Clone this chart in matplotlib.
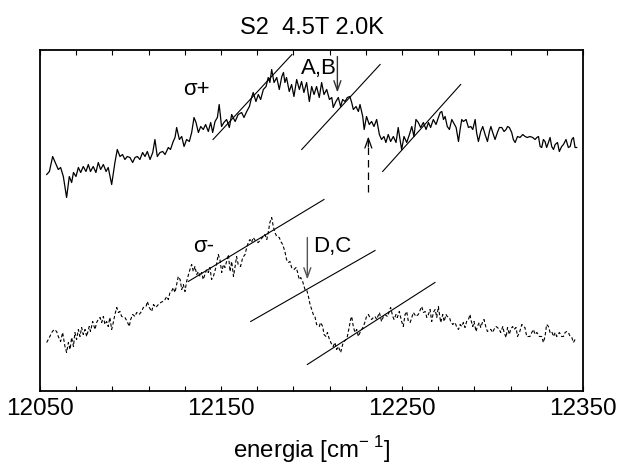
import numpy as np
import matplotlib
matplotlib.use("Agg")
import matplotlib.pyplot as plt
from matplotlib.ticker import FixedLocator

plt.rcParams['font.family'] = ['Liberation Sans', 'DejaVu Sans']
plt.rcParams['mathtext.fontset'] = 'custom'
plt.rcParams['mathtext.rm'] = 'Liberation Sans'

# sigma+ spectrum (solid), energy in cm^-1, intensity in arb. units
sp_x = [12053.7, 12055.2, 12057.0, 12058.9, 12060.1, 12061.4, 12062.9, 12064.7, 12066.2, 12067.5,
        12068.5, 12069.9, 12071.2, 12072.5, 12073.9, 12075.4, 12076.7, 12077.9, 12079.4, 12080.9,
        12082.2, 12083.5, 12085.0, 12086.5, 12087.7, 12089.6, 12091.4, 12092.7, 12094.2, 12095.6,
        12096.9, 12098.2, 12099.7, 12101.2, 12102.5, 12103.8, 12105.2, 12106.7, 12108.0, 12109.3,
        12110.8, 12112.3, 12113.5, 12114.8, 12116.3, 12117.8, 12119.1, 12120.9, 12122.1, 12123.6,
        12124.6, 12125.5, 12127.0, 12128.3, 12129.6, 12131.0, 12132.5, 12133.8, 12135.1, 12136.2,
        12137.5, 12138.8, 12140.2, 12141.5, 12143.0, 12144.3, 12145.4, 12146.7, 12148.0, 12149.0,
        12150.3, 12151.6, 12153.1, 12154.6, 12155.9, 12157.8, 12159.5,
        12161.4, 12162.7, 12164.2, 12165.7, 12166.9, 12167.8, 12169.3, 12170.6, 12171.9, 12173.4,
        12174.9, 12176.1, 12177.0, 12178.0, 12179.3, 12180.8, 12182.2, 12183.6, 12184.5, 12185.3,
        12186.2, 12187.7, 12189.0, 12190.3, 12191.8, 12193.3, 12194.5, 12195.8, 12197.3, 12198.8,
        12200.1, 12201.4, 12202.8, 12204.3, 12205.6, 12206.9, 12208.4, 12209.9, 12211.2, 12212.0,
        12213.5, 12214.8, 12216.1, 12217.2, 12218.5, 12219.8, 12221.2, 12222.2, 12223.1, 12224.6,
        12225.9, 12226.8, 12228.3, 12229.1, 12230.4, 12231.9, 12233.2, 12234.5, 12236.0, 12237.5,
        12238.7, 12240.0, 12241.1, 12242.4, 12243.7, 12245.2, 12246.7, 12247.9, 12248.9, 12249.8,
        12251.1, 12252.6, 12254.1, 12255.4, 12256.6, 12257.7, 12259.0,
        12260.3, 12261.8, 12263.3, 12264.6, 12265.8, 12267.3, 12268.8, 12270.1, 12271.1, 12272.0,
        12272.9, 12273.8, 12275.0, 12276.2, 12277.5, 12278.4, 12279.9, 12281.2, 12282.1, 12283.0,
        12283.9, 12285.4, 12286.7, 12288.0, 12289.1, 12290.4, 12291.2, 12292.2, 12293.5, 12294.6,
        12295.9, 12297.2, 12298.3, 12299.1, 12300.1, 12301.4, 12302.7, 12303.8, 12305.1, 12306.4,
        12307.5, 12308.3, 12309.3, 12310.6, 12311.5, 12312.5, 12313.8, 12315.2, 12316.7, 12318.0,
        12319.2, 12320.7, 12322.2, 12323.5, 12324.5, 12325.4, 12326.3, 12327.2, 12328.1, 12329.0,
        12329.9, 12330.9, 12331.8, 12332.7, 12333.7, 12334.6, 12335.9, 12336.9, 12338.2, 12339.2,
        12340.6, 12341.9, 12342.9, 12343.8, 12344.7, 12345.6, 12346.5]
sp_y = [217, 220, 235, 227, 222, 224, 215, 194, 215, 209,
        219, 215, 224, 219, 225, 220, 227, 220, 225, 219,
        229, 222, 227, 220, 224, 207, 229, 242, 235, 237,
        232, 235, 234, 229, 234, 235, 232, 239, 235, 240,
        232, 239, 252, 235, 239, 240, 237, 244, 242, 250,
        254, 264, 252, 255, 245, 252, 250, 259, 274, 269,
        259, 265, 262, 267, 260, 269, 259, 270, 274, 287,
        265, 269, 272, 264, 277, 270, 277,
        279, 274, 280, 285, 294, 299, 290, 297, 292, 302,
        305, 314, 309, 322, 309, 314, 302, 315, 319, 309,
        314, 300, 307, 295, 312, 302, 310, 299, 309, 290,
        305, 297, 305, 294, 309, 297, 302, 292, 294, 284,
        290, 294, 285, 292, 290, 294, 295, 289, 282, 285,
        280, 287, 275, 262, 275, 267, 270, 265, 272, 257,
        252, 255, 249, 257, 250, 255, 249, 264, 252, 242,
        255, 249, 257, 265, 255, 272, 269,
        264, 269, 262, 269, 264, 272, 267, 274, 279, 280,
        272, 275, 265, 262, 272, 269, 264, 250, 262, 272,
        270, 272, 264, 265, 262, 272, 259, 250, 260, 265,
        257, 250, 260, 265, 259, 252, 259, 264, 264, 260,
        262, 265, 264, 259, 252, 249, 255, 254, 257, 255,
        254, 255, 254, 252, 254, 255, 245, 244, 252, 250,
        244, 249, 254, 245, 242, 247, 249, 240, 245, 247,
        252, 244, 245, 252, 254, 244, 244]

# sigma- spectrum (dashed)
sm_x = [12053.7, 12055.2, 12056.5, 12057.8, 12059.2, 12060.1, 12061.4, 12062.5, 12063.8, 12064.7,
        12065.7, 12066.6, 12067.5, 12068.5, 12069.3, 12070.2, 12071.2, 12072.1, 12073.0, 12073.9,
        12074.9, 12075.8, 12077.2, 12077.9, 12079.1, 12080.4, 12081.3, 12082.2, 12083.2, 12084.1,
        12085.0, 12085.9, 12086.8, 12087.7, 12088.6, 12089.6, 12090.5, 12091.4, 12092.4, 12093.3,
        12094.2, 12095.1, 12096.9, 12098.2, 12099.3, 12100.1, 12101.2, 12102.5, 12103.4, 12104.8,
        12106.1, 12107.1, 12108.6, 12109.3, 12110.4, 12111.7, 12112.7, 12114.0, 12115.4, 12116.7,
        12117.8, 12119.1, 12120.0, 12120.9, 12121.8, 12122.7, 12123.6, 12124.6, 12125.5, 12126.4,
        12127.4, 12128.3, 12129.2, 12130.1, 12131.0, 12132.5, 12133.8, 12134.7, 12135.6, 12136.6,
        12137.5, 12138.4, 12139.3, 12140.2, 12141.1, 12142.1, 12143.0, 12143.9, 12144.8, 12145.8,
        12147.3, 12148.5, 12149.4, 12150.4, 12151.3, 12152.2, 12153.1, 12154.1, 12155.0, 12155.9,
        12156.9, 12157.8, 12158.6, 12159.5,
        12160.8, 12162.0, 12163.3, 12164.2, 12165.1, 12166.0, 12166.9, 12167.8, 12169.3, 12170.6,
        12171.9, 12173.4, 12174.3, 12175.3, 12176.1, 12177.0, 12178.0, 12178.9, 12179.8, 12180.8,
        12182.2, 12183.0, 12184.1, 12185.3, 12186.2, 12187.2, 12188.1, 12189.0, 12190.3, 12191.5,
        12192.2, 12193.2, 12194.0, 12195.1, 12196.4, 12197.3, 12198.3, 12199.2, 12200.1, 12201.0,
        12201.9, 12202.8, 12204.3, 12205.0, 12206.2, 12206.9, 12208.0, 12208.8, 12209.9, 12211.2,
        12212.0, 12212.9, 12213.9, 12214.8, 12216.1, 12217.2, 12218.0, 12219.1, 12219.8, 12220.9,
        12221.6, 12222.2, 12223.1, 12224.0, 12225.0, 12225.9, 12226.8, 12227.7, 12228.7, 12229.6,
        12230.4, 12231.4, 12232.3, 12233.2, 12234.2, 12235.1, 12236.0, 12237.5, 12238.7, 12239.7,
        12240.6, 12241.9, 12243.0, 12243.7, 12244.9, 12245.6, 12246.7, 12247.4, 12248.5, 12249.8,
        12250.7, 12251.7, 12252.6, 12253.5, 12254.5, 12255.4, 12256.3, 12257.7, 12259.0,
        12260.9, 12261.8, 12262.8, 12263.7, 12264.6, 12265.5, 12266.4, 12267.3, 12268.3, 12269.2,
        12270.1, 12270.7, 12271.4, 12272.5, 12273.3, 12274.3, 12275.0, 12276.2, 12276.9, 12278.0,
        12279.3, 12280.3, 12281.2, 12282.1, 12283.0, 12283.9, 12284.8, 12285.7, 12286.7, 12287.6,
        12288.0, 12289.1, 12289.8, 12290.9, 12291.6, 12292.7, 12293.5, 12294.6, 12295.3, 12296.4,
        12297.2, 12298.3, 12299.1, 12300.1, 12300.8, 12301.9, 12302.7, 12303.8, 12304.5, 12305.7,
        12306.4, 12307.5, 12308.3, 12309.3, 12310.0, 12311.1, 12311.9, 12313.0, 12313.8, 12314.9,
        12316.2, 12317.1, 12317.9, 12318.9, 12319.8, 12320.7, 12321.7, 12322.6, 12323.5, 12324.5,
        12325.9, 12327.2, 12328.1, 12329.0, 12329.9, 12330.9, 12331.8, 12332.7, 12333.7, 12334.6,
        12335.5, 12336.9, 12338.2, 12339.2, 12340.1, 12341.0, 12341.9, 12342.9, 12343.8, 12344.7,
        12345.6, 12346.1]
sm_y = [49, 54, 59, 62, 60, 55, 50, 59, 45, 39,
        49, 42, 54, 45, 59, 52, 62, 55, 64, 57,
        62, 55, 65, 60, 70, 62, 69, 72, 74, 69,
        75, 67, 70, 65, 74, 62, 69, 77, 84, 79,
        80, 75, 74, 70, 65, 72, 77, 75, 79, 77,
        80, 84, 85, 90, 84, 80, 87, 84, 87, 89,
        90, 92, 95, 92, 99, 100, 104, 99, 107, 115,
        112, 102, 107, 100, 110, 120, 127, 120, 125, 117,
        120, 115, 119, 112, 117, 122, 119, 124, 112, 115,
        125, 137, 132, 119, 127, 124, 130, 137, 120, 130,
        115, 125, 135, 127,
        125, 134, 137, 144, 149, 152, 149, 154, 150, 149,
        152, 155, 157, 152, 159, 169, 174, 165, 159, 155,
        154, 150, 147, 140, 132, 129, 130, 124, 122, 124,
        120, 112, 114, 110, 102, 102, 95, 87, 82, 77,
        75, 67, 65, 69, 65, 57, 55, 59, 52, 47,
        45, 49, 42, 45, 39, 47, 50, 52, 55, 65,
        72, 75, 65, 59, 62, 55, 59, 62, 65, 70,
        75, 77, 74, 72, 74, 75, 72, 79, 70, 75,
        77, 75, 80, 84, 75, 72, 77, 74, 80, 70,
        65, 77, 80, 70, 69, 74, 79, 75, 77,
        85, 79, 80, 74, 77, 82, 70, 79, 82, 74,
        85, 77, 69, 77, 70, 77, 75, 74, 70, 67,
        69, 64, 62, 67, 65, 69, 64, 70, 72, 77,
        72, 65, 70, 60, 65, 69, 64, 70, 72, 64,
        60, 62, 62, 59, 62, 65, 64, 62, 59, 65,
        59, 54, 64, 57, 62, 65, 62, 64, 55, 59,
        67, 65, 64, 55, 55, 55, 59, 62, 57, 59,
        55, 55, 49, 55, 67, 65, 59, 60, 55, 59,
        55, 59, 55, 55, 59, 60, 59, 55, 54, 49,
        52, 54]

# tangent lines: (x1, x2), (y1, y2)
tangents = [((12145.6, 12189.2), (252, 337)),
            ((12194.6, 12237.9), (242, 327)),
            ((12239.3, 12282.4), (220, 307)),
            ((12131.9, 12206.9), (110, 192)),
            ((12166.4, 12235.1), (70, 141)),
            ((12197.7, 12268.2), (27, 109))]

fig = plt.figure(figsize=(6.18, 4.67), dpi=100)
ax = fig.add_axes([0.0647, 0.1617, 0.8787, 0.7323])

ax.plot(sp_x, sp_y, color='black', lw=0.9)
ax.plot(sm_x, sm_y, color='black', lw=0.8, ls=(0, (3, 2)))
for tx, ty in tangents:
    ax.plot(tx, ty, color='black', lw=0.8)

# arrows
head = '->,head_length=0.7,head_width=0.25'
ax.annotate('', xy=(12214.3, 299), xytext=(12214.3, 335),
            arrowprops=dict(arrowstyle=head, color='#333333', lw=1.0, shrinkA=0, shrinkB=0))
ax.annotate('', xy=(12197.7, 112), xytext=(12197.7, 154),
            arrowprops=dict(arrowstyle=head, color='#555555', lw=1.0, shrinkA=0, shrinkB=0))
ax.plot([12231.4, 12231.4], [199, 250], color='black', lw=0.9, ls=(0, (6, 4)))
ax.annotate('', xy=(12231.4, 255), xytext=(12231.4, 245),
            arrowprops=dict(arrowstyle=head, color='black', lw=0.9, shrinkA=0, shrinkB=0))

ax.text(12136.6, 302, 'σ+', fontsize=16, ha='center', va='center')
ax.text(12140.2, 145, 'σ-', fontsize=16, ha='center', va='center')
ax.text(12204.0, 323, 'A,B', fontsize=16, ha='center', va='center')
ax.text(12211.3, 145, 'D,C', fontsize=16, ha='center', va='center')

ax.set_xlim(12050, 12350)
ax.set_ylim(0, 342)
ax.set_xticks([12050, 12150, 12250, 12350])
ax.xaxis.set_minor_locator(FixedLocator(np.arange(12050, 12351, 20)))
ax.tick_params(axis='x', which='both', direction='in', top=True, length=3.5, width=0.8,
               labelsize=17.5, pad=5)
ax.tick_params(axis='y', left=False, labelleft=False)
for s in ax.spines.values():
    s.set_linewidth(1.3)

ax.set_xlabel('energia [cm$^{-\\ 1}$]', fontsize=17.3, labelpad=10)
ax.set_title('S2  4.5T 2.0K', fontsize=17, pad=11)

fig.savefig('out.png', dpi=100)
